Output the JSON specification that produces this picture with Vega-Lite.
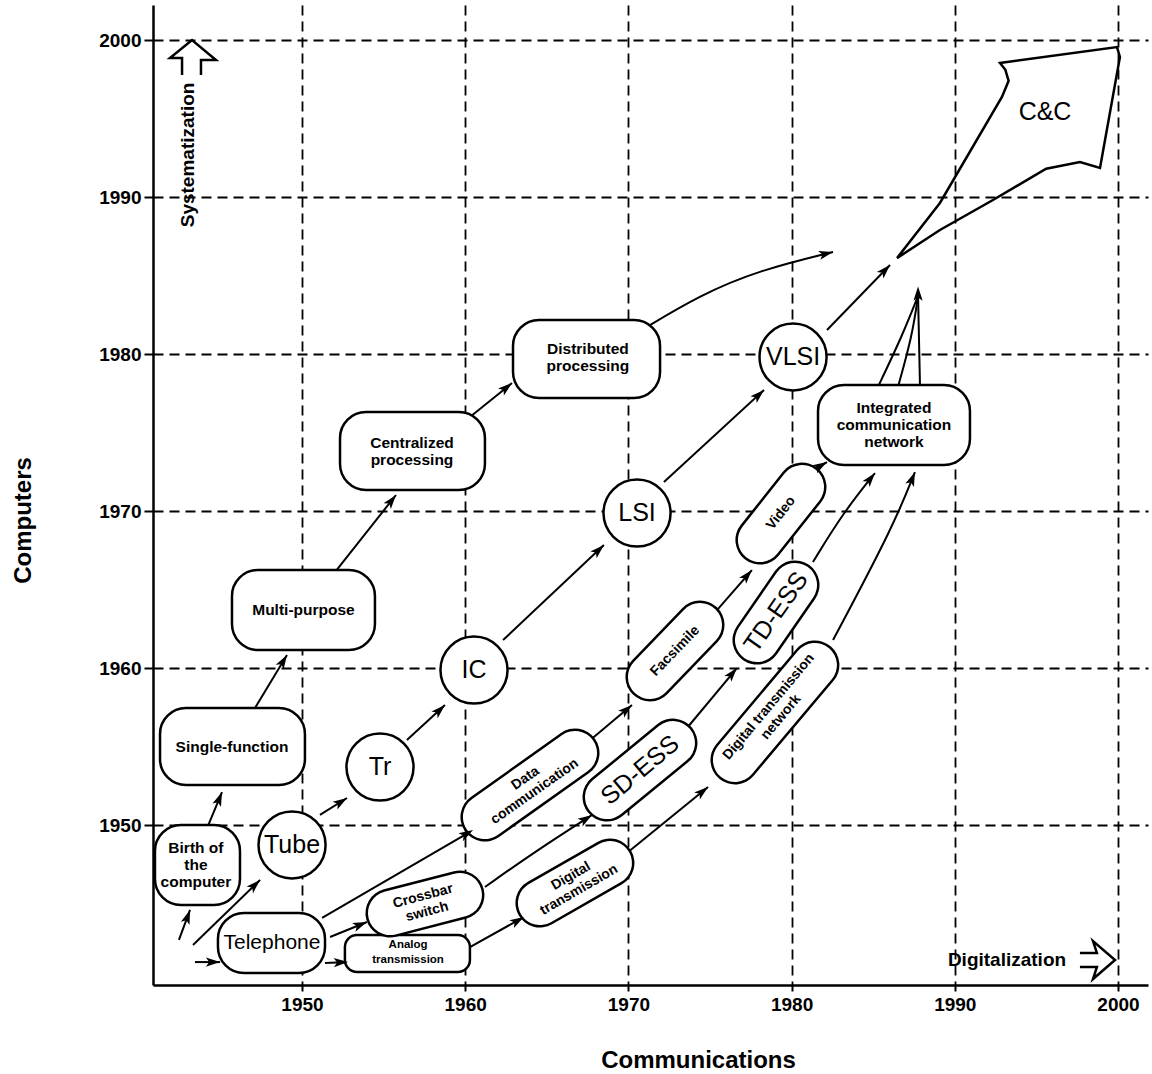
{
  "$schema": "https://vega.github.io/schema/vega-lite/v6.json",
  "autosize": {"type": "none"},
  "padding": {"left": 153, "top": 5, "right": 4, "bottom": 89},
  "width": 995,
  "height": 980,
  "background": "white",
  "config": {"view": {"stroke": null}},
  "datasets": {
    "boxes": [
      {"name": "Birth of the computer", "x": 1940.99, "x2": 1946.20, "y": 1944.90, "y2": 1950.0},
      {"name": "Single-function", "x": 1941.30, "x2": 1950.18, "y": 1952.55, "y2": 1957.45},
      {"name": "Multi-purpose", "x": 1945.71, "x2": 1954.47, "y": 1961.15, "y2": 1966.24},
      {"name": "Centralized processing", "x": 1952.33, "x2": 1961.21, "y": 1971.34, "y2": 1976.31},
      {"name": "Distributed processing", "x": 1962.93, "x2": 1971.94, "y": 1977.20, "y2": 1982.17},
      {"name": "Telephone", "x": 1944.85, "x2": 1951.41, "y": 1940.57, "y2": 1944.39},
      {"name": "Analog transmission", "x": 1952.63, "x2": 1960.29, "y": 1940.64, "y2": 1942.99},
      {"name": "Integrated communication network", "x": 1981.62, "x2": 1990.93, "y": 1972.93, "y2": 1978.03}
    ],
    "circles": [
      {"name": "Tube", "x": 1949.39, "y": 1948.73},
      {"name": "Tr", "x": 1954.78, "y": 1953.69},
      {"name": "IC", "x": 1960.54, "y": 1959.87},
      {"name": "LSI", "x": 1970.53, "y": 1969.87},
      {"name": "VLSI", "x": 1980.09, "y": 1979.81}
    ],
    "pills": [
      {"name": "Crossbar switch", "x": 1955.39, "y": 1944.39, "x2": 1959.68, "y2": 1945.54},
      {"name": "Data communication", "x": 1961.21, "y": 1950.51, "x2": 1966.73, "y2": 1954.59},
      {"name": "Digital transmission", "x": 1964.58, "y": 1945.03, "x2": 1968.87, "y2": 1947.58},
      {"name": "SD-ESS", "x": 1968.69, "y": 1951.78, "x2": 1972.73, "y2": 1955.22},
      {"name": "Digital transmission network", "x": 1976.53, "y": 1954.14, "x2": 1981.43, "y2": 1960.19},
      {"name": "Facsimile", "x": 1971.32, "y": 1959.43, "x2": 1974.39, "y2": 1962.74},
      {"name": "TD-ESS", "x": 1977.88, "y": 1961.78, "x2": 1980.21, "y2": 1965.29},
      {"name": "Video", "x": 1978.06, "y": 1968.15, "x2": 1980.64, "y2": 1971.53}
    ],
    "shapes": [
      {"id": "cc", "o": 1, "x": 1986.46, "y": 1986.11},
      {"id": "cc", "o": 2, "x": 1989.09, "y": 1989.62},
      {"id": "cc", "o": 3, "x": 1992.89, "y": 1996.37},
      {"id": "cc", "o": 4, "x": 1993.30, "y": 1997.40},
      {"id": "cc", "o": 5, "x": 1993.10, "y": 1998.10},
      {"id": "cc", "o": 6, "x": 1992.77, "y": 1998.54},
      {"id": "cc", "o": 7, "x": 1999.94, "y": 1999.55},
      {"id": "cc", "o": 8, "x": 2000.12, "y": 1998.92},
      {"id": "cc", "o": 9, "x": 1998.90, "y": 1991.85},
      {"id": "cc", "o": 10, "x": 1997.67, "y": 1992.23},
      {"id": "cc", "o": 11, "x": 1995.60, "y": 1991.80},
      {"id": "cc", "o": 12, "x": 1992.34, "y": 1989.81},
      {"id": "cc", "o": 13, "x": 1989.09, "y": 1987.90},
      {"id": "cc", "o": 14, "x": 1986.46, "y": 1986.11},
      {"id": "up", "o": 1, "x": 1942.65, "y": 1997.77},
      {"id": "up", "o": 2, "x": 1942.65, "y": 1998.85},
      {"id": "up", "o": 3, "x": 1941.91, "y": 1998.85},
      {"id": "up", "o": 4, "x": 1943.26, "y": 2000.00},
      {"id": "up", "o": 5, "x": 1944.73, "y": 1998.73},
      {"id": "up", "o": 6, "x": 1943.81, "y": 1998.73},
      {"id": "up", "o": 7, "x": 1943.81, "y": 1997.77},
      {"id": "right", "o": 1, "x": 1997.67, "y": 1941.85},
      {"id": "right", "o": 2, "x": 1998.71, "y": 1941.85},
      {"id": "right", "o": 3, "x": 1998.47, "y": 1942.61},
      {"id": "right", "o": 4, "x": 1999.82, "y": 1941.40},
      {"id": "right", "o": 5, "x": 1998.47, "y": 1940.19},
      {"id": "right", "o": 6, "x": 1998.71, "y": 1940.96},
      {"id": "right", "o": 7, "x": 1997.67, "y": 1940.96}
    ],
    "arrows": [
      {"id": "a1", "o": 1, "x": 1942.46, "y": 1942.68}, {"id": "a1", "o": 2, "x": 1943.14, "y": 1944.59},
      {"id": "a2", "o": 1, "x": 1943.32, "y": 1942.36}, {"id": "a2", "o": 2, "x": 1947.43, "y": 1946.50},
      {"id": "a3", "o": 1, "x": 1943.44, "y": 1941.27}, {"id": "a3", "o": 2, "x": 1944.98, "y": 1941.27},
      {"id": "a4", "o": 1, "x": 1944.24, "y": 1949.94}, {"id": "a4", "o": 2, "x": 1945.10, "y": 1952.10},
      {"id": "a5", "o": 1, "x": 1947.12, "y": 1957.45}, {"id": "a5", "o": 2, "x": 1949.08, "y": 1960.83},
      {"id": "a6", "o": 1, "x": 1952.02, "y": 1966.11}, {"id": "a6", "o": 2, "x": 1955.76, "y": 1971.02},
      {"id": "a7", "o": 1, "x": 1960.29, "y": 1975.99}, {"id": "a7", "o": 2, "x": 1962.87, "y": 1978.15},
      {"id": "a8", "o": 1, "x": 1970.83, "y": 1981.53}, {"id": "a8", "o": 2, "x": 1974.39, "y": 1983.76}, {"id": "a8", "o": 3, "x": 1978.06, "y": 1985.35}, {"id": "a8", "o": 4, "x": 1982.54, "y": 1986.50},
      {"id": "a9", "o": 1, "x": 1951.10, "y": 1950.64}, {"id": "a9", "o": 2, "x": 1952.76, "y": 1951.72},
      {"id": "a10", "o": 1, "x": 1956.43, "y": 1955.41}, {"id": "a10", "o": 2, "x": 1958.76, "y": 1957.64},
      {"id": "a11", "o": 1, "x": 1962.32, "y": 1961.78}, {"id": "a11", "o": 2, "x": 1968.50, "y": 1967.83},
      {"id": "a12", "o": 1, "x": 1972.18, "y": 1971.85}, {"id": "a12", "o": 2, "x": 1978.31, "y": 1977.71},
      {"id": "a13", "o": 1, "x": 1982.17, "y": 1981.53}, {"id": "a13", "o": 2, "x": 1986.03, "y": 1985.67},
      {"id": "a14", "o": 1, "x": 1951.23, "y": 1944.08}, {"id": "a14", "o": 2, "x": 1960.48, "y": 1949.68},
      {"id": "a15", "o": 1, "x": 1951.72, "y": 1942.87}, {"id": "a15", "o": 2, "x": 1953.98, "y": 1943.82},
      {"id": "a16", "o": 1, "x": 1951.41, "y": 1941.21}, {"id": "a16", "o": 2, "x": 1952.82, "y": 1941.27},
      {"id": "a17", "o": 1, "x": 1961.21, "y": 1946.05}, {"id": "a17", "o": 2, "x": 1964.15, "y": 1948.22}, {"id": "a17", "o": 3, "x": 1967.77, "y": 1950.64},
      {"id": "a18", "o": 1, "x": 1960.29, "y": 1942.23}, {"id": "a18", "o": 2, "x": 1963.60, "y": 1944.14},
      {"id": "a19", "o": 1, "x": 1969.91, "y": 1948.22}, {"id": "a19", "o": 2, "x": 1974.88, "y": 1952.42},
      {"id": "a20", "o": 1, "x": 1967.52, "y": 1955.29}, {"id": "a20", "o": 2, "x": 1970.22, "y": 1957.64},
      {"id": "a21", "o": 1, "x": 1973.59, "y": 1956.18}, {"id": "a21", "o": 2, "x": 1976.65, "y": 1960.00},
      {"id": "a22", "o": 1, "x": 1975.43, "y": 1963.69}, {"id": "a22", "o": 2, "x": 1977.57, "y": 1966.24},
      {"id": "a23", "o": 1, "x": 1981.31, "y": 1966.75}, {"id": "a23", "o": 2, "x": 1983.15, "y": 1969.87}, {"id": "a23", "o": 3, "x": 1985.11, "y": 1972.42},
      {"id": "a24", "o": 1, "x": 1982.54, "y": 1961.78}, {"id": "a24", "o": 2, "x": 1986.21, "y": 1968.98}, {"id": "a24", "o": 3, "x": 1987.56, "y": 1972.48},
      {"id": "a25", "o": 1, "x": 1981.31, "y": 1972.61}, {"id": "a25", "o": 2, "x": 1982.17, "y": 1973.12},
      {"id": "a26", "o": 1, "x": 1985.29, "y": 1977.90}, {"id": "a26", "o": 2, "x": 1986.80, "y": 1981.20}, {"id": "a26", "o": 3, "x": 1987.75, "y": 1983.70},
      {"id": "a27", "o": 1, "x": 1986.52, "y": 1977.90}, {"id": "a27", "o": 2, "x": 1987.40, "y": 1981.20}, {"id": "a27", "o": 3, "x": 1987.75, "y": 1983.70},
      {"id": "a28", "o": 1, "x": 1987.87, "y": 1977.90}, {"id": "a28", "o": 2, "x": 1987.75, "y": 1983.70}
    ],
    "heads": [
      {"id": "a1", "x": 1943.14, "y": 1944.59, "a": 20},
      {"id": "a2", "x": 1947.43, "y": 1946.50, "a": 46},
      {"id": "a3", "x": 1944.98, "y": 1941.27, "a": 90},
      {"id": "a4", "x": 1945.10, "y": 1952.10, "a": 22},
      {"id": "a5", "x": 1949.08, "y": 1960.83, "a": 31},
      {"id": "a6", "x": 1955.76, "y": 1971.02, "a": 38},
      {"id": "a7", "x": 1962.87, "y": 1978.15, "a": 51},
      {"id": "a8", "x": 1982.54, "y": 1986.50, "a": 76},
      {"id": "a9", "x": 1952.76, "y": 1951.72, "a": 58},
      {"id": "a10", "x": 1958.76, "y": 1957.64, "a": 47},
      {"id": "a11", "x": 1968.50, "y": 1967.83, "a": 47},
      {"id": "a12", "x": 1978.31, "y": 1977.71, "a": 47},
      {"id": "a13", "x": 1986.03, "y": 1985.67, "a": 44},
      {"id": "a14", "x": 1960.48, "y": 1949.68, "a": 60},
      {"id": "a15", "x": 1953.98, "y": 1943.82, "a": 68},
      {"id": "a16", "x": 1952.82, "y": 1941.27, "a": 88},
      {"id": "a17", "x": 1967.77, "y": 1950.64, "a": 57},
      {"id": "a18", "x": 1963.60, "y": 1944.14, "a": 60},
      {"id": "a19", "x": 1974.88, "y": 1952.42, "a": 51},
      {"id": "a20", "x": 1970.22, "y": 1957.64, "a": 50},
      {"id": "a21", "x": 1976.65, "y": 1960.00, "a": 40},
      {"id": "a22", "x": 1977.57, "y": 1966.24, "a": 41},
      {"id": "a23", "x": 1985.11, "y": 1972.42, "a": 39},
      {"id": "a24", "x": 1987.56, "y": 1972.48, "a": 22},
      {"id": "a25", "x": 1982.17, "y": 1973.12, "a": 60},
      {"id": "a26", "x": 1987.75, "y": 1984.30, "a": 0}
    ],
    "texts": [
      {"label": "Birth of\nthe\ncomputer", "x": 1943.50, "y": 1948.53, "a": 0, "k": "S"},
      {"label": "Single-function", "x": 1945.71, "y": 1954.97, "a": 0, "k": "S"},
      {"label": "Multi-purpose", "x": 1950.09, "y": 1963.69, "a": 0, "k": "S"},
      {"label": "Centralized\nprocessing", "x": 1956.74, "y": 1974.36, "a": 0, "k": "S"},
      {"label": "Distributed\nprocessing", "x": 1967.52, "y": 1980.35, "a": 0, "k": "S"},
      {"label": "Integrated\ncommunication\nnetwork", "x": 1986.27, "y": 1976.56, "a": 0, "k": "S"},
      {"label": "Telephone", "x": 1948.16, "y": 1942.48, "a": 0, "k": "M"},
      {"label": "Analog\ntransmission", "x": 1956.50, "y": 1942.33, "a": 0, "k": "T"},
      {"label": "Tube", "x": 1949.39, "y": 1948.73, "a": 0, "k": "L"},
      {"label": "Tr", "x": 1954.78, "y": 1953.69, "a": 0, "k": "L"},
      {"label": "IC", "x": 1960.54, "y": 1959.87, "a": 0, "k": "L"},
      {"label": "LSI", "x": 1970.53, "y": 1969.87, "a": 0, "k": "L"},
      {"label": "VLSI", "x": 1980.09, "y": 1979.81, "a": 0, "k": "L"},
      {"label": "C&C", "x": 1995.53, "y": 1995.41, "a": 0, "k": "L"},
      {"label": "SD-ESS", "x": 1970.71, "y": 1953.50, "a": -40, "k": "L"},
      {"label": "TD-ESS", "x": 1979.04, "y": 1963.57, "a": -55, "k": "L"},
      {"label": "Crossbar\nswitch", "x": 1957.41, "y": 1945.46, "a": -15, "k": "P"},
      {"label": "Data\ncommunication", "x": 1963.69, "y": 1952.97, "a": -35, "k": "P"},
      {"label": "Digital\ntransmission", "x": 1966.48, "y": 1946.75, "a": -30, "k": "P"},
      {"label": "Digital transmission\nnetwork", "x": 1978.60, "y": 1957.53, "a": -50, "k": "P"},
      {"label": "Facsimile", "x": 1972.86, "y": 1961.08, "a": -46, "k": "P"},
      {"label": "Video", "x": 1979.35, "y": 1969.87, "a": -52, "k": "P"},
      {"label": "Systematization", "x": 1943.01, "y": 1992.68, "a": -90, "k": "A"},
      {"label": "Digitalization", "x": 1993.20, "y": 1941.40, "a": 0, "k": "A"}
    ]
  },
  "encoding": {
    "x": {
      "field": "x", "type": "quantitative",
      "scale": {"domain": [1940.87, 2001.84], "nice": false, "zero": false},
      "axis": {
        "values": [1950, 1960, 1970, 1980, 1990, 2000], "format": "d",
        "title": "Communications", "titleX": 545, "titleY": 75, "titleAnchor": "middle", "titleBaseline": "middle",
        "grid": true, "gridDash": [10, 6], "gridColor": "black", "gridWidth": 1.8, "gridOpacity": 1,
        "domainColor": "black", "domainWidth": 2.5,
        "tickColor": "black", "tickSize": 6, "tickWidth": 2,
        "labelFont": "Liberation Sans", "labelFontSize": 19, "labelFontWeight": "bold", "labelColor": "black", "labelPadding": 4, "labelFlush": false,
        "titleFont": "Liberation Sans", "titleFontSize": 24, "titleFontWeight": "bold", "titleColor": "black"
      }
    },
    "y": {
      "field": "y", "type": "quantitative",
      "scale": {"domain": [1939.81, 2002.23], "nice": false, "zero": false},
      "axis": {
        "values": [1950, 1960, 1970, 1980, 1990, 2000], "format": "d",
        "title": "Computers", "titleX": -130, "titleY": 515, "titleAnchor": "middle", "titleBaseline": "middle", "titleAngle": -90,
        "grid": true, "gridDash": [10, 6], "gridColor": "black", "gridWidth": 1.8, "gridOpacity": 1,
        "domainColor": "black", "domainWidth": 2.5,
        "tickColor": "black", "tickSize": 9, "tickWidth": 2,
        "labelFont": "Liberation Sans", "labelFontSize": 19, "labelFontWeight": "bold", "labelColor": "black", "labelPadding": 3, "labelFlush": false,
        "titleFont": "Liberation Sans", "titleFontSize": 24, "titleFontWeight": "bold", "titleColor": "black"
      }
    }
  },
  "layer": [
    {
      "data": {"name": "shapes"},
      "mark": {"type": "line", "color": "black", "strokeWidth": 2.5, "interpolate": "linear"},
      "encoding": {"detail": {"field": "id"}, "order": {"field": "o", "type": "quantitative"}}
    },
    {
      "data": {"name": "arrows"},
      "mark": {"type": "line", "color": "black", "strokeWidth": 2, "interpolate": "basis"},
      "encoding": {"detail": {"field": "id"}, "order": {"field": "o", "type": "quantitative"}}
    },
    {
      "data": {"name": "boxes"},
      "transform": [{"filter": "datum.name !== 'Analog transmission'"}],
      "mark": {"type": "rect", "fill": "white", "stroke": "black", "strokeWidth": 2.5, "cornerRadius": 26},
      "encoding": {"x2": {"field": "x2"}, "y2": {"field": "y2"}}
    },
    {
      "data": {"name": "boxes"},
      "transform": [{"filter": "datum.name === 'Analog transmission'"}],
      "mark": {"type": "rect", "fill": "white", "stroke": "black", "strokeWidth": 2.5, "cornerRadius": 12},
      "encoding": {"x2": {"field": "x2"}, "y2": {"field": "y2"}}
    },
    {
      "data": {"name": "pills"},
      "mark": {"type": "rule", "color": "black", "strokeWidth": 49, "strokeCap": "round"},
      "encoding": {"x2": {"field": "x2"}, "y2": {"field": "y2"}}
    },
    {
      "data": {"name": "pills"},
      "mark": {"type": "rule", "color": "white", "strokeWidth": 44, "strokeCap": "round"},
      "encoding": {"x2": {"field": "x2"}, "y2": {"field": "y2"}}
    },
    {
      "data": {"name": "circles"},
      "mark": {"type": "point", "shape": "circle", "size": 4500, "filled": true, "fill": "white", "stroke": "black", "strokeWidth": 2.5, "opacity": 1}
    },
    {
      "data": {"name": "heads"},
      "mark": {"type": "point", "shape": "M0,0L0.55,1.7L0,1.3L-0.55,1.7Z", "size": 280, "filled": true, "color": "black", "opacity": 1},
      "encoding": {"angle": {"field": "a", "type": "quantitative", "scale": null}}
    },
    {
      "data": {"name": "texts"},
      "transform": [{"filter": "datum.k === 'L'"}],
      "mark": {"type": "text", "font": "Liberation Sans", "fontSize": 25, "color": "black", "align": "center", "baseline": "middle", "lineBreak": "\n"},
      "encoding": {"text": {"field": "label"}, "angle": {"field": "a", "type": "quantitative", "scale": null}}
    },
    {
      "data": {"name": "texts"},
      "transform": [{"filter": "datum.k === 'M'"}],
      "mark": {"type": "text", "font": "Liberation Sans", "fontSize": 21, "color": "black", "align": "center", "baseline": "middle", "lineBreak": "\n"},
      "encoding": {"text": {"field": "label"}, "angle": {"field": "a", "type": "quantitative", "scale": null}}
    },
    {
      "data": {"name": "texts"},
      "transform": [{"filter": "datum.k === 'S'"}],
      "mark": {"type": "text", "font": "Liberation Sans", "fontSize": 15.5, "fontWeight": "bold", "lineHeight": 17, "color": "black", "align": "center", "baseline": "middle", "lineBreak": "\n"},
      "encoding": {"text": {"field": "label"}, "angle": {"field": "a", "type": "quantitative", "scale": null}}
    },
    {
      "data": {"name": "texts"},
      "transform": [{"filter": "datum.k === 'T'"}],
      "mark": {"type": "text", "font": "Liberation Sans", "fontSize": 11.5, "fontWeight": "bold", "lineHeight": 15, "color": "black", "align": "center", "baseline": "middle", "lineBreak": "\n"},
      "encoding": {"text": {"field": "label"}, "angle": {"field": "a", "type": "quantitative", "scale": null}}
    },
    {
      "data": {"name": "texts"},
      "transform": [{"filter": "datum.k === 'P'"}],
      "mark": {"type": "text", "font": "Liberation Sans", "fontSize": 14, "fontWeight": "bold", "lineHeight": 16, "color": "black", "align": "center", "baseline": "middle", "lineBreak": "\n"},
      "encoding": {"text": {"field": "label"}, "angle": {"field": "a", "type": "quantitative", "scale": null}}
    },
    {
      "data": {"name": "texts"},
      "transform": [{"filter": "datum.k === 'A'"}],
      "mark": {"type": "text", "font": "Liberation Sans", "fontSize": 19, "fontWeight": "bold", "color": "black", "align": "center", "baseline": "middle", "lineBreak": "\n"},
      "encoding": {"text": {"field": "label"}, "angle": {"field": "a", "type": "quantitative", "scale": null}}
    }
  ]
}
